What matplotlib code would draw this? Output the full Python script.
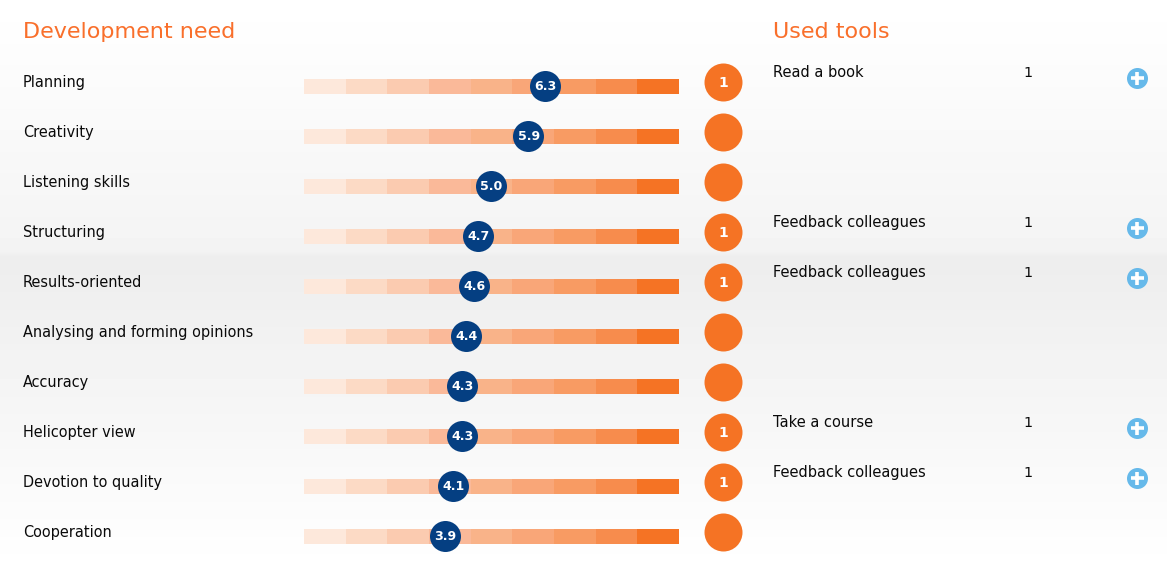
import numpy as np
import matplotlib
matplotlib.use('Agg')
import matplotlib.pyplot as plt

plt.rcParams.update({'font.family': 'DejaVu Sans'})

needs = ['Planning', 'Creativity', 'Listening skills', 'Structuring', 'Results-oriented',
         'Analysing and forming opinions', 'Accuracy', 'Helicopter view', 'Devotion to quality', 'Cooperation']
scores = [6.3, 5.9, 5.0, 4.7, 4.6, 4.4, 4.3, 4.3, 4.1, 3.9]
badges = ['1', '', '', '1', '1', '', '', '1', '1', '']
tools = ['Read a book', '', '', 'Feedback colleagues', 'Feedback colleagues',
         '', '', 'Take a course', 'Feedback colleagues', '']
tool_counts = ['1', '', '', '1', '1', '', '', '1', '1', '']
levels = [1, 2, 3, 4, 5, 6, 7, 8, 9]

level_colors = ['#fde8db', '#fcdac5', '#fbcbb0', '#fab999', '#f9b389',
                '#f9a678', '#f89b63', '#f78c4d', '#f57324']
orange = '#f57324'
navy = '#053f82'
blue = '#66b9ea'

W, H = 1167, 572
px = 0.72  # px -> pt at dpi 100
fig = plt.figure(figsize=(W / 100, H / 100), dpi=100)

# page, in pixel coordinates
ax = fig.add_axes([0, 0, 1, 1])
ax.set_xlim(0, W)
ax.set_ylim(H, 0)
ax.axis('off')

# background: two soft grey gradients that meet at y=254
grad = np.concatenate([np.linspace(1.0, 0.955, 250), np.linspace(0.955, 0.93, 8),
                       np.linspace(0.93, 1.0, H - 258)])
ax.imshow(grad[:, None], extent=[0, W, H, 0], aspect='auto', cmap='gray', vmin=0, vmax=1, zorder=0)

# score scale, x in score units, y in pixels
sx = fig.add_axes([304 / W, 0, 375 / W, 1])
sx.set_xlim(0.5, 9.5)
sx.set_ylim(H, 0)
sx.axis('off')
sx.patch.set_alpha(0)

ax.text(23, 37.5, 'Development need', color='#f96f2b', fontsize=22.3 * px, va='baseline')
ax.text(773, 37.5, 'Used tools', color='#f96f2b', fontsize=22.3 * px, va='baseline')

for i, name in enumerate(needs):
    dy = 50 * i
    ax.text(23, 87 + dy, name, color='#0a0a0a', fontsize=14.5 * px, va='baseline')
    sx.bar(levels, [15] * len(levels), bottom=79 + dy, width=1, color=level_colors, linewidth=0)
    sx.scatter([scores[i] - 0.015], [86 + dy], s=(31 * px) ** 2, color=navy, linewidth=0, zorder=3, clip_on=False)
    sx.text(scores[i], 87 + dy, '%.1f' % scores[i], color='white', fontsize=12.6 * px,
            fontweight='bold', ha='center', va='center', zorder=4)
    ax.scatter([723], [82 + dy], s=(38 * px) ** 2, color=orange, linewidth=0, zorder=3)
    if badges[i]:
        ax.text(723, 83 + dy, badges[i], color='white', fontsize=14 * px, fontweight='bold',
                ha='center', va='center', zorder=4)
    if tools[i]:
        ax.text(773, 77 + dy, tools[i], color='#0a0a0a', fontsize=14.6 * px, va='baseline')
        ax.text(1028, 77 + dy, tool_counts[i], color='#0a0a0a', fontsize=14.4 * px, ha='center', va='baseline')
        ax.scatter([1137], [78 + dy], s=(21 * px) ** 2, color=blue, linewidth=0, zorder=3)
        ax.scatter([1137], [78 + dy], s=(13 * px) ** 2, color='white', marker='+', linewidth=3.6 * px, zorder=4)

fig.savefig('out.png', dpi=100)
